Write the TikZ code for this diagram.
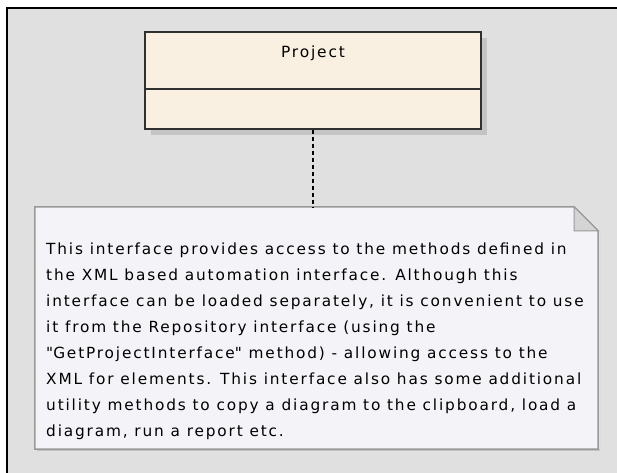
\documentclass[tikz,border=0pt]{standalone}
\usepackage{fontspec}
\setmainfont{DejaVu Sans}[LetterSpace=12]
\usetikzlibrary{calc}
\definecolor{framegray}{HTML}{E0E0E0}
\definecolor{classfill}{HTML}{FAF0E1}
\definecolor{classline}{HTML}{303030}
\definecolor{shadowgray}{HTML}{C4C4C4}
\definecolor{notefill}{HTML}{F4F3F7}
\definecolor{noteline}{HTML}{999999}
\definecolor{foldgray}{HTML}{D4D4D4}
\begin{document}
\begin{tikzpicture}
  [x=1bp,y=-1bp,
   classbox/.style={rectangle,draw=classline,fill=classfill,line width=1.5bp,minimum width=336bp,inner sep=0pt,font=\fontsize{15.5}{17}\selectfont},
   notebox/.style={rectangle,draw=none,minimum width=563bp,minimum height=242bp,inner sep=0pt},
   notetext/.style={align=left,inner sep=0pt,font=\fontsize{15.4}{26}\selectfont}]
\useasboundingbox (0,0) rectangle (617,473);
  % diagram frame
  \fill[white] (0,0) rectangle (617,473);
  \fill[framegray] (7,8) rectangle (617,473);
  \draw[black,line width=1.5bp] (7,473) -- (7,8) -- (617,8);

  % class Project
  \fill[shadowgray] (151,38) rectangle (487,135);
  \node[classbox,text height=25.5bp,text depth=31.5bp] (project) at (313,60.5) {Project};
  \node[classbox,minimum height=40bp] (projectbody) at (313,109) {};

  % note
  \node[notebox] (note) at (316.5,328) {};
  \fill[shadowgray] ($(note.north east)+(2,26)$) rectangle ($(note.south east)+(2,2)$);
  \fill[shadowgray] ($(note.south west)+(2,0)$) rectangle ($(note.south east)+(2,2)$);
  \filldraw[fill=notefill,draw=noteline,line width=1.5bp]
    (note.north west) -- ($(note.north east)+(-24,0)$) -- ($(note.north east)+(0,24)$)
    -- (note.south east) -- (note.south west) -- cycle;
  \filldraw[fill=foldgray,draw=noteline,line width=1bp]
    ($(note.north east)+(-24,0)$) -- ($(note.north east)+(-24,24)$) -- ($(note.north east)+(0,24)$) -- cycle;
  \node[notetext,anchor=base west] (notetext) at (46,436)
    {This interface provides access to the methods defined in\\
     the XML based automation interface. Although this\\
     interface can be loaded separately, it is convenient to use\\
     it from the Repository interface (using the\\
     \textquotedbl GetProjectInterface\textquotedbl{} method) - allowing access to the\\
     XML for elements. This interface also has some additional\\
     utility methods to copy a diagram to the clipboard, load a\\
     diagram, run a report etc.};

  % link from class to note
  \draw[black,line width=1.5bp,dash pattern=on 4bp off 3bp] (projectbody.south) -- (projectbody.south |- note.north);
\end{tikzpicture}
\end{document}
